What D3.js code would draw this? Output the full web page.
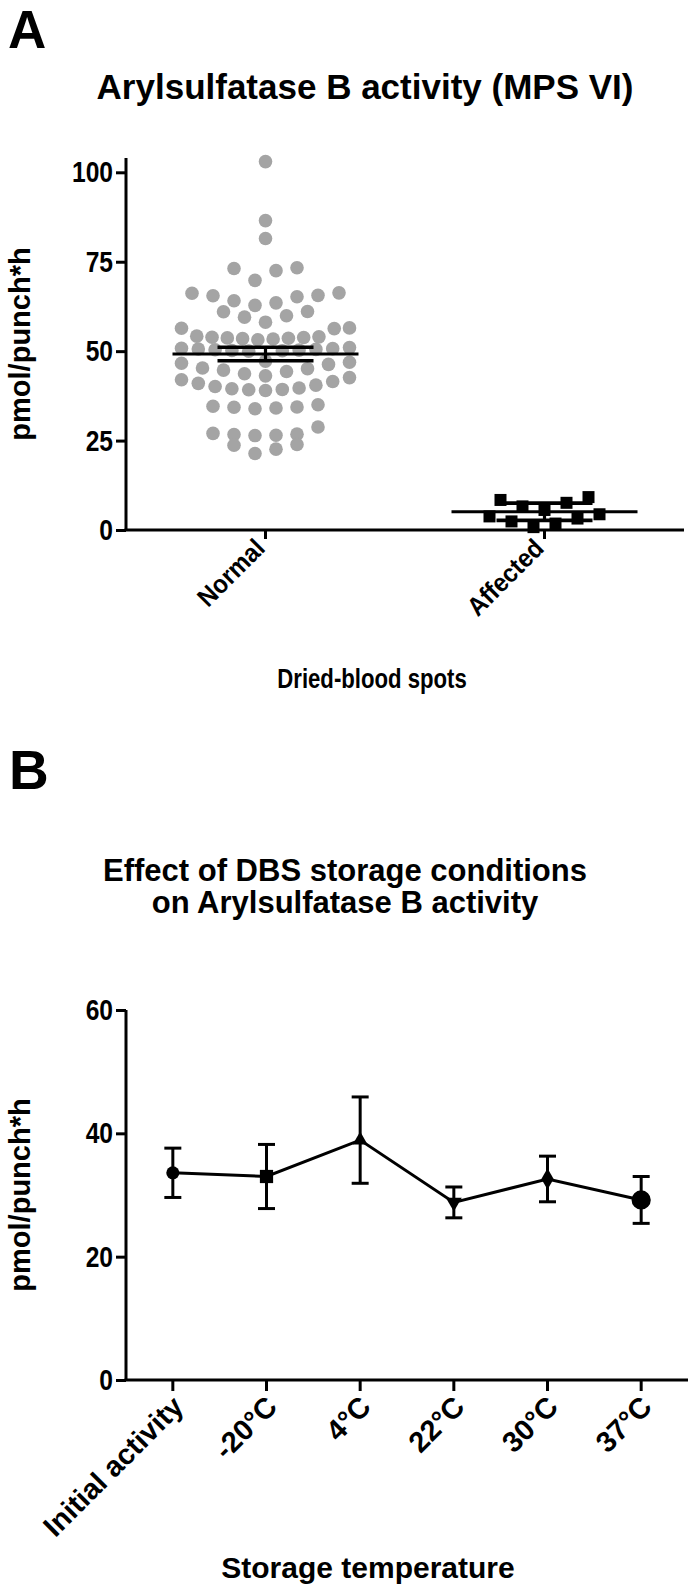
<!DOCTYPE html>
<html><head><meta charset="utf-8">
<script src="https://cdn.jsdelivr.net/npm/d3@7"></script>
<style>
body{margin:0;background:#fff}
svg{display:block}
text{font-family:"Liberation Sans",Arial,Helvetica,sans-serif;font-weight:bold;fill:#000}
</style>
</head><body>
<svg id="c" width="691" height="1592"></svg>
<script>
// ---------- Panel A data ----------
const groupsA = ["Normal", "Affected"];
const normalValues = [
  103.0, 86.5, 81.5, 73.3, 73.1, 72.5, 69.8,
  66.3, 66.2, 65.6, 65.5, 65.2, 64.1, 63.5, 62.8,
  61.1, 61.0, 59.9, 59.5,
  58.1, 56.5, 56.4, 56.3,
  54.2, 54.0, 53.9, 53.8, 53.7, 53.6, 53.5, 53.4, 53.2,
  51.0, 50.8, 50.7, 50.6, 50.5, 50.4, 50.3, 50.2, 50.1, 50.0,
  47.2, 46.9, 46.6, 46.3,
  45.3, 45.1, 44.7, 44.3, 43.7, 43.1, 42.6, 42.0, 41.5, 41.0, 40.5, 40.1, 39.7, 39.5, 39.3, 39.2, 39.0,
  35.0, 34.6, 34.4, 34.3, 34.1, 33.9,
  28.8,
  27.0, 26.8, 26.7, 26.5, 26.4,
  23.9, 23.7, 22.6, 21.4
];
const affectedValues = [6.6, 8.4, 7.6, 9.2, 5.6, 3.2, 3.8, 1.8, 0.8, 2.4, 4.4];
const meanA = [49.2, 5.1];
const semA = [1.9, 2.4];
const yTicksA = [0, 25, 50, 75, 100];

// ---------- Panel B data ----------
const categoriesB = ["Initial activity", "-20°C", "4°C", "22°C", "30°C", "37°C"];
const meansB = [33.6, 33.0, 38.9, 28.8, 32.6, 29.2];
const errB = [4.0, 5.2, 7.0, 2.5, 3.7, 3.8];
const yTicksB = [0, 20, 40, 60];

const svg = d3.select("#c");
const AX = 3;

function condense(sel, f) {
  sel.each(function () {
    const L = this.getComputedTextLength();
    d3.select(this).attr("textLength", L * f).attr("lengthAdjust", "spacingAndGlyphs");
  });
}

// Row-based scatter layout (GraphPad-like): values grouped into rows of
// height binH (data units); inside a row the lowest value sits in the
// middle and the others alternate outward, spaced evenly within maxHalf.
function rowScatter(values, yScale, cx, binH, spacing, maxHalf) {
  const sorted = values.slice().sort((a, b) => b - a);
  const rows = [];
  let cur = null;
  for (const v of sorted) {
    if (!cur || cur.start - v > binH) { cur = {start: v, vals: []}; rows.push(cur); }
    cur.vals.push(v);
  }
  const out = [];
  for (const r of rows) {
    const vals = r.vals.slice().sort((a, b) => a - b);
    const n = vals.length;
    const s = n > 1 ? Math.min(spacing, 2 * maxHalf / (n - 1)) : 0;
    // slot offsets ordered from the middle outward
    const slots = d3.range(n).map(i => (i - (n - 1) / 2) * s)
      .sort((a, b) => Math.abs(a) - Math.abs(b) || a - b);
    vals.forEach((v, i) => out.push({v, x: cx + slots[i], y: yScale(v)}));
  }
  return out;
}

// ================= Panel A =================
{
  const x0 = 126, x1 = 684, yTop = 158, yBot = 530;
  const y = d3.scaleLinear().domain([0, 104]).range([yBot, yTop]);
  const x = d3.scaleBand().domain(groupsA).range([x0, x1]);
  const g = svg.append("g");

  svg.append("text").attr("x", 8).attr("y", 48).attr("font-size", 53).text("A");
  svg.append("text").attr("x", 365).attr("y", 99).attr("text-anchor", "middle")
    .attr("font-size", 35).text("Arylsulfatase B activity (MPS VI)");

  const yAxis = d3.axisLeft(y).tickValues(yTicksA).tickSize(10).tickPadding(3).tickSizeOuter(0);
  const ya = g.append("g").attr("transform", `translate(${x0},0)`).call(yAxis);
  ya.select(".domain").attr("stroke-width", AX).attr("d", `M0,${yTop}V${yBot}`);
  ya.selectAll(".tick line").attr("stroke-width", AX);
  ya.selectAll(".tick text").attr("font-size", 30).attr("font-family", null);
  condense(ya.selectAll(".tick text"), 0.82);

  const xAxis = d3.axisBottom(x).tickSize(9).tickSizeOuter(0).tickFormat("");
  const xa = g.append("g").attr("transform", `translate(0,${yBot})`).call(xAxis);
  xa.select(".domain").attr("stroke-width", AX).attr("d", `M${x0 - 1.5},0H${x1}`);
  xa.selectAll(".tick line").attr("stroke-width", AX);

  groupsA.forEach(gr => {
    const cx = x(gr) + x.bandwidth() / 2;
    const t = g.append("text").attr("font-size", 26).attr("text-anchor", "end")
      .attr("transform", `translate(${cx - 12},${yBot + 7}) rotate(-45)`)
      .attr("dy", "0.7em").text(gr);
    condense(t, 0.92);
  });

  const cN = x("Normal") + x.bandwidth() / 2;
  const cA = x("Affected") + x.bandwidth() / 2;
  const ptsN = rowScatter(normalValues, y, cN, 3.9, 21, 84);
  g.append("g").selectAll("circle").data(ptsN).join("circle")
    .attr("cx", d => d.x).attr("cy", d => d.y).attr("r", 6.8).attr("fill", "#a4a4a4");

  const ptsA = rowScatter(affectedValues, y, cA, 3.9, 22, 68);
  g.append("g").selectAll("rect").data(ptsA).join("rect")
    .attr("x", d => d.x - 6).attr("y", d => d.y - 6).attr("width", 12).attr("height", 12).attr("fill", "#000");

  [cN, cA].forEach((cx, i) => {
    const m = meanA[i], s = semA[i];
    g.append("line").attr("x1", cx - 93).attr("x2", cx + 93).attr("y1", y(m)).attr("y2", y(m))
      .attr("stroke", "#000").attr("stroke-width", 3.2);
    g.append("line").attr("x1", cx).attr("x2", cx).attr("y1", y(m - s)).attr("y2", y(m + s))
      .attr("stroke", "#000").attr("stroke-width", 3.2);
    [m - s, m + s].forEach(v => g.append("line").attr("x1", cx - 48).attr("x2", cx + 48)
      .attr("y1", y(v)).attr("y2", y(v)).attr("stroke", "#000").attr("stroke-width", 3.6));
  });

  g.append("text").attr("font-size", 29).attr("text-anchor", "middle")
    .attr("transform", `translate(30,${(yTop + yBot) / 2}) rotate(-90)`).text("pmol/punch*h");
  const t = g.append("text").attr("x", 372).attr("y", 688).attr("text-anchor", "middle")
    .attr("font-size", 27).text("Dried-blood spots");
  condense(t, 0.82);
}

// ================= Panel B =================
{
  const x0 = 126, x1 = 688, yTop = 1010, yBot = 1380;
  const y = d3.scaleLinear().domain([0, 60]).range([yBot, yTop]);
  const x = d3.scaleBand().domain(categoriesB).range([x0, x1]);
  const cx = c => x(c) + x.bandwidth() / 2;
  const g = svg.append("g");

  svg.append("text").attr("x", 9).attr("y", 789).attr("font-size", 55).text("B");
  svg.append("text").attr("x", 345).attr("y", 881).attr("text-anchor", "middle")
    .attr("font-size", 31).text("Effect of DBS storage conditions");
  svg.append("text").attr("x", 345).attr("y", 913).attr("text-anchor", "middle")
    .attr("font-size", 31).text("on Arylsulfatase B activity");

  const yAxis = d3.axisLeft(y).tickValues(yTicksB).tickSize(10).tickPadding(3).tickSizeOuter(0);
  const ya = g.append("g").attr("transform", `translate(${x0},0)`).call(yAxis);
  ya.select(".domain").attr("stroke-width", AX).attr("d", `M0,${yTop}V${yBot}`);
  ya.selectAll(".tick line").attr("stroke-width", AX);
  ya.selectAll(".tick text").attr("font-size", 30).attr("font-family", null);
  condense(ya.selectAll(".tick text"), 0.82);

  const xAxis = d3.axisBottom(x).tickSize(11).tickSizeOuter(0).tickFormat("");
  const xa = g.append("g").attr("transform", `translate(0,${yBot})`).call(xAxis);
  xa.select(".domain").attr("stroke-width", AX).attr("d", `M${x0 - 1.5},0H${x1}`);
  xa.selectAll(".tick line").attr("stroke-width", AX);

  categoriesB.forEach(c => {
    g.append("text").attr("font-size", 29).attr("text-anchor", "end")
      .attr("transform", `translate(${cx(c) - 2},${yBot + 14}) rotate(-45)`)
      .attr("dy", "0.7em").text(c);
  });

  categoriesB.forEach((c, i) => {
    const m = meansB[i], e = errB[i], X = cx(c);
    g.append("line").attr("x1", X).attr("x2", X).attr("y1", y(m - e)).attr("y2", y(m + e))
      .attr("stroke", "#000").attr("stroke-width", 3);
    [m - e, m + e].forEach(v => g.append("line").attr("x1", X - 8.5).attr("x2", X + 8.5)
      .attr("y1", y(v)).attr("y2", y(v)).attr("stroke", "#000").attr("stroke-width", 3));
  });

  const line = d3.line().x((d, i) => cx(categoriesB[i])).y(d => y(d));
  g.append("path").datum(meansB).attr("d", line).attr("fill", "none")
    .attr("stroke", "#000").attr("stroke-width", 3);

  const symbolFor = [
    {type: d3.symbolCircle, size: 135, rot: 0},
    {type: d3.symbolSquare, size: 175, rot: 0},
    {type: d3.symbolTriangle, size: 95, rot: 0},
    {type: d3.symbolTriangle, size: 110, rot: 180},
    {type: d3.symbolDiamond, size: 130, rot: 0},
    {type: d3.symbolCircle, size: 290, rot: 0}
  ];
  g.append("g").selectAll("path").data(meansB).join("path")
    .attr("d", (d, i) => d3.symbol().type(symbolFor[i].type).size(symbolFor[i].size)())
    .attr("transform", (d, i) => `translate(${cx(categoriesB[i])},${y(d)}) rotate(${symbolFor[i].rot})`)
    .attr("fill", "#000");

  g.append("text").attr("font-size", 29).attr("text-anchor", "middle")
    .attr("transform", `translate(30,${(yTop + yBot) / 2}) rotate(-90)`).text("pmol/punch*h");
  g.append("text").attr("x", 368).attr("y", 1578).attr("text-anchor", "middle")
    .attr("font-size", 30).text("Storage temperature");
}
</script>
</body></html>
